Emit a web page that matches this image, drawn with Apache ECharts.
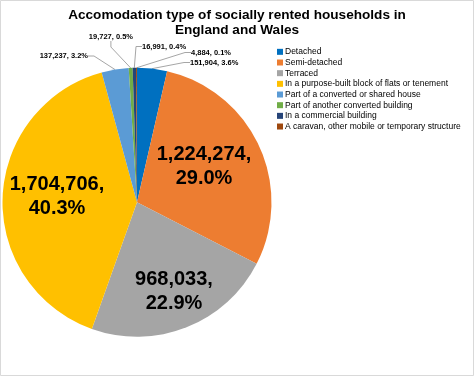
<!DOCTYPE html>
<html>
<head>
<meta charset="utf-8">
<script src="https://cdn.jsdelivr.net/npm/echarts@6/dist/echarts.min.js"></script>
<style>
html,body{margin:0;padding:0;background:#fff;}
#chart{width:474px;height:376px;}
</style>
</head>
<body>
<div id="chart"></div>
<script>
const categories = [
  'Detached',
  'Semi-detached',
  'Terraced',
  'In a purpose-built block of flats or tenement',
  'Part of a converted or shared house',
  'Part of another converted building',
  'In a commercial building',
  'A caravan, other mobile or temporary structure'
];
const households = [151904, 1224274, 968033, 1704706, 137237, 19727, 16991, 4884];
const colors = ['#0070C0', '#ED7D31', '#A5A5A5', '#FFC000', '#5B9BD5', '#70AD47', '#264478', '#9E480E'];
const insideSlices = [1, 2, 3];

const total = households.reduce((a, b) => a + b, 0);
const FONT = '"Liberation Sans", Arial, sans-serif';

// label placements (style only)
const labelPos = {
  0: {x: 190, y: 62.5, align: 'left'},
  1: {x: 204, y: 166, align: 'center'},
  2: {x: 174, y: 291, align: 'center'},
  3: {x: 57, y: 196, align: 'center'},
  4: {x: 88, y: 56, align: 'right'},
  5: {x: 133, y: 37, align: 'right'},
  6: {x: 142, y: 46.5, align: 'left'},
  7: {x: 191, y: 52.5, align: 'left'}
};

const data = categories.map((name, i) => {
  const inside = insideSlices.indexOf(i) >= 0;
  return {
    name: name,
    value: households[i],
    itemStyle: {color: colors[i]},
    label: inside ? {position: 'inside', fontSize: 20, lineHeight: 24} : {position: 'outside', fontSize: 7.5},
    labelLine: {show: !inside}
  };
});

const chart = echarts.init(document.getElementById('chart'), null, {renderer: 'canvas'});
chart.setOption({
  animation: false,
  backgroundColor: '#fff',
  graphic: [{
    type: 'rect',
    shape: {x: 0.5, y: 0.5, width: 473, height: 375},
    style: {fill: 'none', stroke: '#d9d9d9', lineWidth: 1},
    silent: true
  }],
  title: {
    text: 'Accomodation type of socially rented households in\nEngland and Wales',
    left: 237,
    top: 7,
    textAlign: 'center',
    padding: 0,
    textStyle: {fontFamily: FONT, fontSize: 13.6, fontWeight: 'bold', color: '#000', lineHeight: 15.5}
  },
  legend: {
    orient: 'vertical',
    left: 277,
    top: 46.5,
    padding: 0,
    itemWidth: 6,
    itemHeight: 6,
    itemGap: 0,
    icon: 'rect',
    selectedMode: false,
    textStyle: {fontFamily: FONT, fontSize: 8.5, lineHeight: 10.67, color: '#000', padding: [0, 0, 0, -3]},
    data: categories
  },
  series: [{
    type: 'pie',
    center: [137, 202.3],
    radius: [0, 134.5],
    startAngle: 90,
    clockwise: true,
    avoidLabelOverlap: false,
    data: data,
    label: {
      fontFamily: FONT,
      fontWeight: 'bold',
      color: '#000',
      formatter: function (p) {
        const pct = (p.value / total * 100).toFixed(1) + '%';
        const v = p.value.toLocaleString('en-US');
        return insideSlices.indexOf(p.dataIndex) >= 0 ? v + ',\n' + pct : v + ', ' + pct;
      }
    },
    labelLine: {lineStyle: {color: '#a6a6a6', width: 1}, length: 8, length2: 6},
    labelLayout: function (params) {
      const p = labelPos[params.dataIndex];
      return {x: p.x, y: p.y, align: p.align, verticalAlign: 'middle'};
    },
    emphasis: {disabled: true}
  }]
});
</script>
</body>
</html>
